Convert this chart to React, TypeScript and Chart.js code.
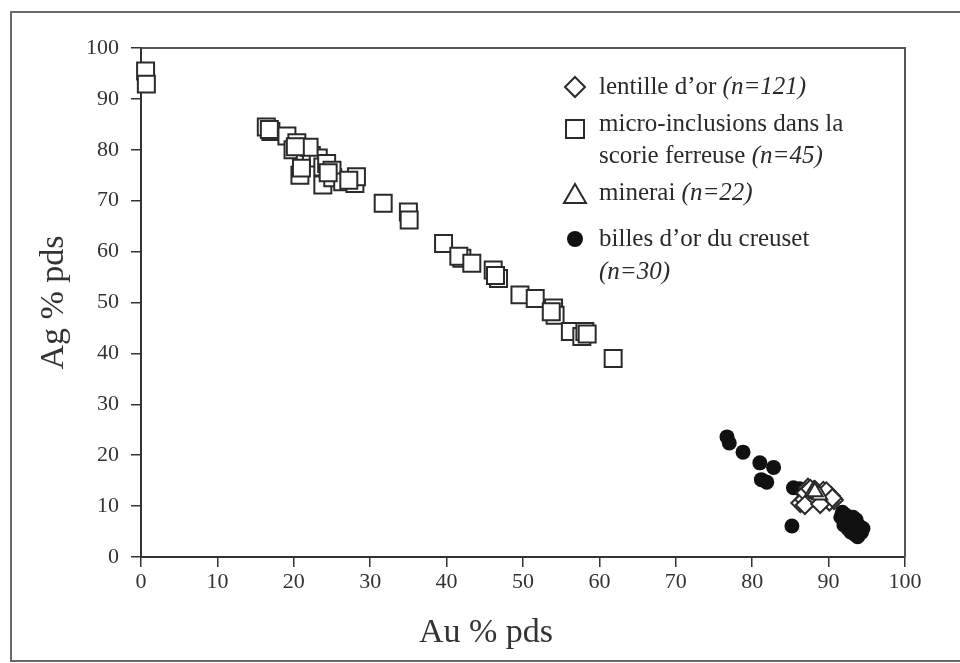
import React, { useEffect, useRef } from "react";
import { Chart, registerables } from "chart.js";

Chart.register(...registerables);

// ---- Data ----
const axisTicks = [0, 10, 20, 30, 40, 50, 60, 70, 80, 90, 100];

const lentilleAu = [86.3, 86.8, 87.3, 87.8, 88.2, 88.6, 89.1, 89.5, 89.9, 90.3, 90.7, 87.0, 88.0, 89.3, 90.1, 86.9, 88.9, 89.7, 87.6, 90.5];
const lentilleAg = [10.6, 11.3, 13.6, 12.8, 13.2, 12.2, 11.2, 12.4, 11.8, 12.0, 11.2, 12.6, 11.7, 13.0, 10.9, 10.2, 10.4, 12.9, 13.4, 11.6];

const microAu = [0.6, 0.7, 16.4, 17.0, 19.1, 20.4, 19.9, 21.5, 22.3, 23.2, 20.8, 21.0, 23.8, 24.3, 23.8, 25.1, 25.0, 26.4, 28.0, 28.2, 27.2, 24.5, 31.7, 35.0, 35.1, 39.6, 42.0, 41.6, 43.3, 46.1, 46.8, 46.4, 49.6, 51.6, 54.0, 54.2, 53.7, 56.2, 57.7, 58.1, 58.4, 61.8, 22.0, 20.2, 16.8];
const microAg = [95.5, 92.9, 84.5, 83.6, 82.7, 81.4, 80.0, 79.4, 78.9, 78.4, 75.0, 76.4, 76.6, 77.3, 73.1, 74.5, 76.0, 73.7, 73.4, 74.7, 74.0, 75.5, 69.5, 67.8, 66.2, 61.6, 58.7, 59.1, 57.7, 56.4, 54.7, 55.3, 51.5, 50.8, 48.9, 47.5, 48.2, 44.3, 43.3, 44.3, 43.8, 39.0, 80.5, 80.6, 84.0];

const mineraiAu = [88.4, 88.0, 88.8, 88.2];
const mineraiAg = [12.5, 13.0, 12.2, 12.8];

const billesAu = [76.7, 77.0, 78.8, 81.0, 82.8, 81.2, 81.9, 85.4, 86.2, 85.2, 87.2, 91.8, 92.3, 92.6, 93.1, 93.6, 92.0, 92.5, 93.0, 93.4, 94.0, 94.3, 93.8, 94.5, 92.8, 91.6, 93.2, 94.1, 92.9, 93.6];
const billesAg = [23.6, 22.4, 20.6, 18.5, 17.6, 15.2, 14.7, 13.6, 13.4, 6.1, 13.0, 8.8, 8.2, 7.4, 6.6, 7.3, 6.3, 5.6, 5.2, 4.5, 5.4, 4.8, 4.0, 5.6, 6.0, 7.8, 7.8, 6.0, 4.9, 5.8];

const xTitle = "Au % pds";
const yTitle = "Ag % pds";

// legend: marker kinds and lines made of [text, italic] parts
const legendMarkers = ["diamond", "square", "triangle", "circle"];
const legendLines: [string, boolean][][][] = [
  [[["lentille d’or ", false], ["(n=121)", true]]],
  [[["micro-inclusions dans la", false]], [["scorie ferreuse ", false], ["(n=45)", true]]],
  [[["minerai ", false], ["(n=22)", true]]],
  [[["billes d’or du creuset", false]], [["(n=30)", true]]],
];

const FONT = "'Liberation Serif', 'DejaVu Serif', serif";
const INK = "#2a2a2a";

const pts = (xs: number[], ys: number[]) => xs.map((x, i) => ({ x, y: ys[i] }));

const framePlugin = {
  id: "frame",
  beforeDraw(chart: any) {
    const ctx = chart.ctx;
    ctx.save();
    ctx.fillStyle = "#ffffff";
    ctx.fillRect(0, 0, chart.width, chart.height);
    ctx.strokeStyle = "#6a6a6a";
    ctx.lineWidth = 2;
    ctx.strokeRect(11, 12, 1000, 649);
    ctx.restore();
  },
  afterDraw(chart: any) {
    const ctx = chart.ctx;
    const a = chart.chartArea;
    ctx.save();
    ctx.strokeStyle = "#555";
    ctx.lineWidth = 2;
    ctx.beginPath();
    ctx.moveTo(a.left, a.top);
    ctx.lineTo(a.right, a.top);
    ctx.lineTo(a.right, a.bottom);
    ctx.stroke();

    // axis titles
    ctx.fillStyle = "#333";
    ctx.font = `34px ${FONT}`;
    ctx.textAlign = "center";
    ctx.textBaseline = "middle";
    ctx.fillText(xTitle, 486, 633);
    ctx.save();
    ctx.translate(54, (a.top + a.bottom) / 2);
    ctx.rotate(-Math.PI / 2);
    ctx.fillText(yTitle, 0, 0);
    ctx.restore();

    // legend
    const mx = 575;
    const tx = 599;
    const rows = [
      { my: 87, ys: [87] },
      { my: 129, ys: [124, 156] },
      { my: 194, ys: [193] },
      { my: 239, ys: [239, 272] },
    ];
    ctx.lineWidth = 2;
    ctx.strokeStyle = INK;
    rows.forEach((r, i) => {
      const m = legendMarkers[i];
      ctx.beginPath();
      if (m === "diamond") {
        ctx.moveTo(mx, r.my - 10);
        ctx.lineTo(mx + 10, r.my);
        ctx.lineTo(mx, r.my + 10);
        ctx.lineTo(mx - 10, r.my);
        ctx.closePath();
        ctx.fillStyle = "#fff";
        ctx.fill();
        ctx.stroke();
      } else if (m === "square") {
        ctx.rect(mx - 9, r.my - 9, 18, 18);
        ctx.fillStyle = "#fff";
        ctx.fill();
        ctx.stroke();
      } else if (m === "triangle") {
        ctx.moveTo(mx, r.my - 10);
        ctx.lineTo(mx + 11, r.my + 9);
        ctx.lineTo(mx - 11, r.my + 9);
        ctx.closePath();
        ctx.fillStyle = "#fff";
        ctx.fill();
        ctx.stroke();
      } else {
        ctx.arc(mx, r.my, 8, 0, Math.PI * 2);
        ctx.fillStyle = "#111";
        ctx.fill();
      }
      ctx.fillStyle = INK;
      ctx.textBaseline = "middle";
      ctx.textAlign = "left";
      legendLines[i].forEach((line, j) => {
        let x = tx;
        line.forEach(([t, it]) => {
          ctx.font = `${it ? "italic " : ""}25px ${FONT}`;
          ctx.fillText(t, x, r.ys[j]);
          x += ctx.measureText(t).width;
        });
      });
    });
    ctx.restore();
  },
};

export default function App() {
  const ref = useRef<HTMLCanvasElement>(null);
  useEffect(() => {
    if (!ref.current) return;
    const tickFont = { family: FONT, size: 22 };
    const chart = new Chart(ref.current, {
      type: "scatter",
      data: {
        datasets: [
          {
            label: "minerai (n=22)",
            data: pts(mineraiAu, mineraiAg),
            pointStyle: "triangle",
            pointRadius: 9,
            borderWidth: 2,
            borderColor: INK,
            backgroundColor: "#fff",
            clip: false,
            order: 0,
          },
          {
            label: "lentille d’or (n=121)",
            data: pts(lentilleAu, lentilleAg),
            pointStyle: "rectRot",
            pointRadius: 9,
            borderWidth: 2,
            borderColor: INK,
            backgroundColor: "#fff",
            clip: false,
            order: 1,
          },
          {
            label: "micro-inclusions dans la scorie ferreuse (n=45)",
            data: pts(microAu, microAg),
            pointStyle: "rect",
            pointRadius: 12,
            borderWidth: 2,
            borderColor: INK,
            backgroundColor: "#fff",
            clip: false,
            order: 2,
          },
          {
            label: "billes d’or du creuset (n=30)",
            data: pts(billesAu, billesAg),
            pointStyle: "circle",
            pointRadius: 7.5,
            borderWidth: 0,
            borderColor: "#111",
            backgroundColor: "#111",
            clip: false,
            order: 3,
          },
        ],
      },
      options: {
        responsive: false,
        animation: false,
        devicePixelRatio: 1,
        layout: { padding: { left: 0, right: 55, top: 48, bottom: 0 } },
        plugins: { legend: { display: false }, tooltip: { enabled: false } },
        scales: {
          x: {
            type: "linear",
            min: 0,
            max: 100,
            afterFit: (s: any) => {
              s.height = 106;
            },
            afterBuildTicks: (s: any) => {
              s.ticks = axisTicks.map((v) => ({ value: v }));
            },
            ticks: { font: tickFont, color: "#333", padding: 2 },
            grid: { drawOnChartArea: false, drawTicks: true, tickLength: 10, color: "#333", lineWidth: 1.5 },
            border: { display: true, color: "#333", width: 2 },
            title: { display: false },
          },
          y: {
            type: "linear",
            min: 0,
            max: 100,
            afterFit: (s: any) => {
              s.width = 141;
            },
            afterBuildTicks: (s: any) => {
              s.ticks = axisTicks.map((v) => ({ value: v }));
            },
            ticks: { font: tickFont, color: "#333", padding: 12 },
            grid: { drawOnChartArea: false, drawTicks: true, tickLength: 10, color: "#333", lineWidth: 1.5 },
            border: { display: true, color: "#333", width: 2 },
            title: { display: false },
          },
        },
      } as any,
      plugins: [framePlugin],
    });
    return () => chart.destroy();
  }, []);
  return (
    <div style={{ position: "fixed", left: 0, top: 0, width: 960, height: 663, overflow: "hidden", background: "#fff" }}>
      <canvas ref={ref} width={960} height={663} style={{ display: "block", width: 960, height: 663 }} />
    </div>
  );
}
